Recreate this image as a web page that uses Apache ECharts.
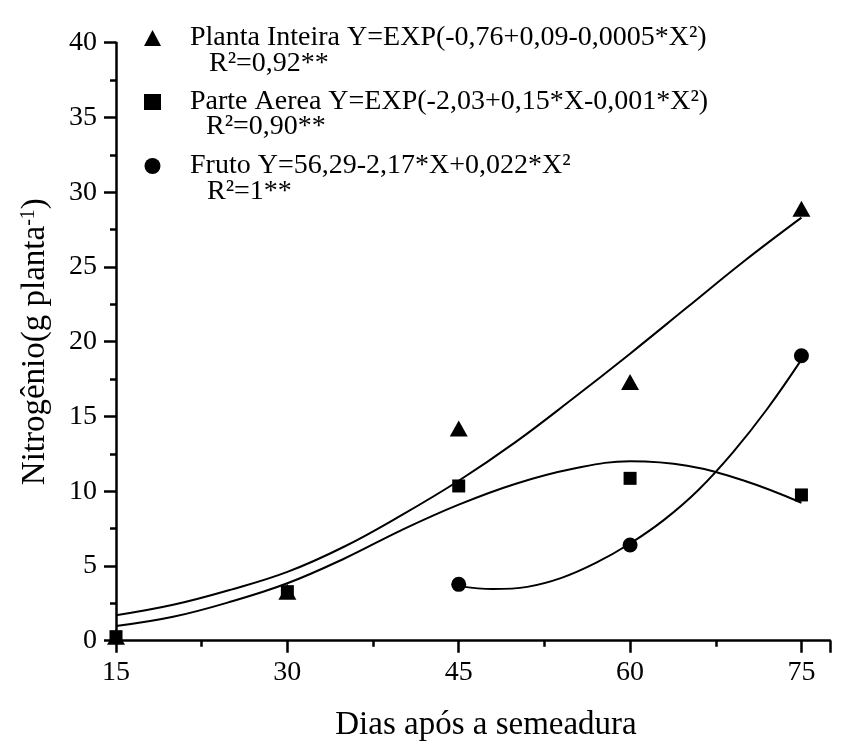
<!DOCTYPE html>
<html>
<head>
<meta charset="utf-8">
<script src="https://cdn.jsdelivr.net/npm/echarts@6/dist/echarts.min.js"></script>
<style>
  html, body { margin: 0; padding: 0; background: #fff; }
  #chart { width: 845px; height: 742px; }
</style>
</head>
<body>
<div id="chart"></div>
<script>
// pontos observados
const dias = [15, 30, 45, 60, 75];
const plantaInteira = [0.27, 3.28, 14.2, 17.3, 28.9];
const parteAerea = [0.27, 3.28, 10.35, 10.86, 9.75];
const diasFruto = [45, 60, 75];
const fruto = [3.77, 6.4, 19.06];

// curvas ajustadas
const curvaX = [15, 20, 25, 30, 35, 40, 45, 50, 55, 60, 65, 70, 75];
const curvaPlanta = [1.7, 2.4, 3.4, 4.6, 6.3, 8.4, 10.7, 13.3, 16.2, 19.2, 22.3, 25.4, 28.3];
const curvaAerea = [0.98, 1.6, 2.6, 3.84, 5.5, 7.4, 9.1, 10.5, 11.5, 12.0, 11.7, 10.7, 9.23];
const curvaFrutoX = [45, 48, 51, 54, 57, 60, 63, 66, 69, 72, 75];
const curvaFruto = [3.65, 3.45, 3.6, 4.2, 5.2, 6.5, 8.1, 10.1, 12.6, 15.5, 18.8];

const nomes = [
    "Planta Inteira Y=EXP(-0,76+0,09-0,0005*X²)",
    "Parte Aerea Y=EXP(-2,03+0,15*X-0,001*X²)",
    "Fruto Y=56,29-2,17*X+0,022*X²"
];
const r2 = ["R²=0,92**", "R²=0,90**", "R²=1**"];

const fonte = "'Liberation Serif', 'Times New Roman', serif";
const pares = (xs, ys) => xs.map((x, i) => [x, ys[i]]);

const chart = echarts.init(document.getElementById('chart'));

const linha = (dados) => ({
    type: 'line', data: dados, smooth: 0.4, showSymbol: false, silent: true,
    lineStyle: { color: '#000', width: 2 }, z: 2
});

let option = {
    backgroundColor: '#fff',
    animation: false,
    textStyle: { fontFamily: fonte, color: '#000' },
    grid: { left: 116, right: 15, top: 42.7, bottom: 101.3, outerBoundsMode: 'none', containLabel: false },
    legend: {
        orient: 'vertical', left: 139, top: 19, itemWidth: 17, itemHeight: 16, itemGap: 36,
        data: nomes,
        textStyle: { fontFamily: fonte, fontSize: 28, color: '#000', padding: [0, 0, 0, 24] }
    },
    graphic: r2.map((t, i) => ({
        type: 'text', left: [209, 206, 207][i], top: [65, 128, 193][i] - 15,
        style: { text: t, font: "28px " + fonte, fill: '#000' }
    })),
    xAxis: {
        type: 'value', min: 15, max: 77.5, interval: 15,
        name: 'Dias após a semeadura', nameLocation: 'middle', nameGap: 68,
        nameTextStyle: { fontFamily: fonte, fontSize: 33, color: '#000', padding: [0, 0, 0, 26] },
        axisLine: { show: true, lineStyle: { color: '#000', width: 2.5 } },
        axisTick: { show: true, length: 12, lineStyle: { color: '#000', width: 2.5 } },
        minorTick: { show: true, splitNumber: 2, length: 6, lineStyle: { color: '#000', width: 2.5 } },
        axisLabel: { fontFamily: fonte, fontSize: 28, color: '#000', margin: 18, showMaxLabel: false },
        splitLine: { show: false }
    },
    yAxis: {
        type: 'value', min: 0, max: 40, interval: 5,
        name: '{a|Nitrogênio(g planta}{b|-1}{a|)}', nameLocation: 'middle', nameGap: 64, nameRotate: 90,
        nameTextStyle: {
            rich: {
                a: { fontFamily: fonte, fontSize: 33, color: '#000' },
                b: { fontFamily: fonte, fontSize: 20, color: '#000', verticalAlign: 'top', padding: [0, 0, 12, 0] }
            }
        },
        axisLine: { show: true, lineStyle: { color: '#000', width: 2.5 } },
        axisTick: { show: true, length: 12, lineStyle: { color: '#000', width: 2.5 } },
        minorTick: { show: true, splitNumber: 2, length: 6, lineStyle: { color: '#000', width: 2.5 } },
        axisLabel: { fontFamily: fonte, fontSize: 28, color: '#000', margin: 19 },
        splitLine: { show: false }
    },
    series: [
        linha(pares(curvaX, curvaPlanta)),
        linha(pares(curvaX, curvaAerea)),
        linha(pares(curvaFrutoX, curvaFruto)),
        {
            name: nomes[0], type: 'scatter', symbol: 'triangle', symbolSize: [18, 16],
            data: pares(dias, plantaInteira), itemStyle: { color: '#000', opacity: 1 }, z: 3
        },
        {
            name: nomes[1], type: 'scatter', symbol: 'rect', symbolSize: 13,
            data: pares(dias, parteAerea), itemStyle: { color: '#000', opacity: 1 }, z: 4
        },
        {
            name: nomes[2], type: 'scatter', symbol: 'circle', symbolSize: 15,
            data: pares(diasFruto, fruto), itemStyle: { color: '#000', opacity: 1 }, z: 4
        }
    ]
};
chart.setOption(option);
</script>
</body>
</html>
